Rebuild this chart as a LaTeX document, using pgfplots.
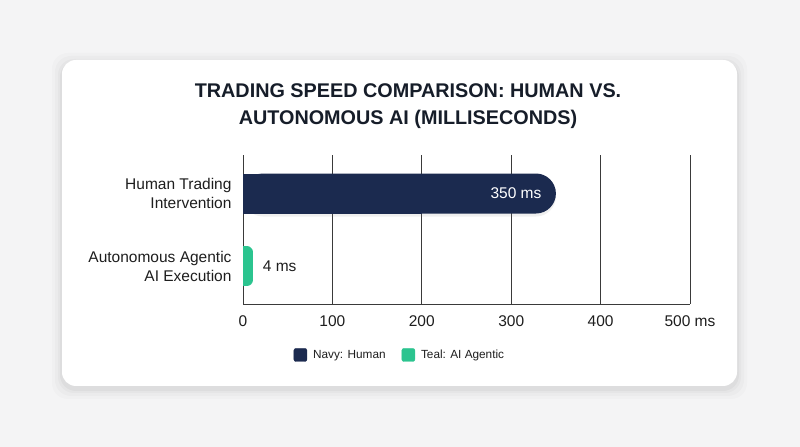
\documentclass[border=0pt]{standalone}
\usepackage{fontspec}
\setmainfont{Liberation Sans}
\usepackage{pgfplots}
\pgfplotsset{compat=1.18}
\usetikzlibrary{shadows}
\definecolor{navy}{HTML}{1B2A4F}
\definecolor{aiteal}{HTML}{2BC48F}
\definecolor{gridgray}{HTML}{3A3A3A}
\definecolor{titleink}{HTML}{161D29}
\definecolor{textink}{HTML}{1E1E1E}
\definecolor{bgout}{HTML}{F4F4F5}

\begin{document}
\begin{tikzpicture}[x=1bp,y=1bp]
% page and card
\fill[bgout] (0,0) rectangle (800,447);
\foreach \i/\o in {10/0.015,7/0.02,4/0.025,2/0.03}{
  \fill[black,opacity=\o,rounded corners=16] (62-\i,61-\i-3) rectangle (737+\i,387+\i-3);
}
\fill[white,rounded corners=14] (62,61) rectangle (737,387);
\node[font=\bfseries\fontsize{19.8bp}{27bp}\selectfont, text=titleink, align=center]
  at (408,341) {TRADING SPEED COMPARISON: HUMAN VS.\\AUTONOMOUS AI (MILLISECONDS)};

\begin{axis}[
    at={(243bp,143bp)}, anchor=south west,
    scale only axis, width=447bp, height=149bp,
    xmin=0, xmax=500, ymin=-0.52, ymax=1.53,
    axis lines=left,
    axis line style={gridgray, line width=0.9bp, -},
    xmajorgrids, grid style={gridgray, line width=0.9bp},
    major tick length=0pt,
    xtick={0,100,200,300,400,500},
    xticklabels={0,100,200,300,400,500 ms},
    ytick={0,1},
    yticklabels={{Autonomous Agentic\\AI Execution},{Human Trading\\Intervention}},
    ticklabel style={font=\fontsize{15.5bp}{19bp}\selectfont, text=textink},
    yticklabel style={align=right, xshift=-8bp},
    xticklabel style={yshift=-8bp},
    /pgf/number format/assume math mode=true,
    point meta=x,
    legend style={at={(0.351,-0.342)}, anchor=center, draw=none, fill=none,
      legend columns=2, font=\fontsize{11.8bp}{14bp}\selectfont, text=textink,
      /tikz/every even column/.append style={column sep=14bp}},
]
\addplot[xbar, bar width=40bp, bar shift=0pt, fill=navy, draw=none,
  rounded corners=20bp, forget plot,
  drop shadow={shadow xshift=0bp, shadow yshift=-3bp, opacity=0.12},
  nodes near coords={\pgfmathprintnumber{\pgfplotspointmeta}~ms},
  every node near coord/.append style={anchor=east, xshift=-11bp, text=white,
    font=\fontsize{15.5bp}{19bp}\selectfont}]
  coordinates {(350,1)};
\begin{scope}
\clip (axis cs:0,0.4) rectangle (axis cs:200,1.6);
\addplot[xbar, bar width=40bp, bar shift=0pt, fill=navy, draw=none, forget plot]
  coordinates {(350,1)};
\end{scope}
\addplot[xbar, bar width=28bp, bar shift=0pt, fill=aiteal, draw=aiteal,
  line width=12bp, line join=round, forget plot,
  nodes near coords={\pgfmathprintnumber{\pgfplotspointmeta}~ms},
  every node near coord/.append style={anchor=west, xshift=7bp, text=textink,
    font=\fontsize{15.5bp}{19bp}\selectfont}]
  coordinates {(4,0)};
\addlegendimage{legend image code/.code={\fill[navy,rounded corners=2bp] (0bp,-6.5bp) rectangle (13bp,6.5bp); \path (17bp,0bp);}}
\addlegendentry{Navy: Human}
\addlegendimage{legend image code/.code={\fill[aiteal,rounded corners=2bp] (0bp,-6.5bp) rectangle (13bp,6.5bp); \path (17bp,0bp);}}
\addlegendentry{Teal: AI Agentic}
\end{axis}
\end{tikzpicture}
\end{document}
